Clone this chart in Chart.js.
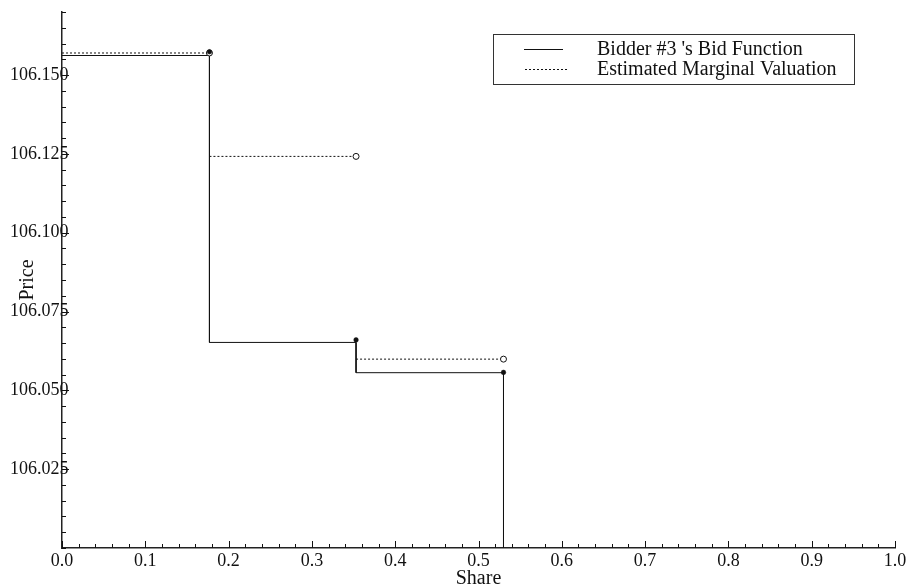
<!DOCTYPE html>
<html><head><meta charset="utf-8">
<script src="https://cdn.jsdelivr.net/npm/chart.js@4.4.1/dist/chart.umd.min.js"></script>
<style>html,body{margin:0;padding:0;background:#fff;} #wrap{width:911px;height:587px;}</style>
</head><body><div id="wrap"><canvas id="c" width="911" height="587"></canvas></div>
<script>
// ---- data ----
const seriesNames = ["Bidder #3 's Bid Function", "Estimated Marginal Valuation"];
const stepStart = [0, 0.177, 0.353];
const stepEnd = [0.177, 0.353, 0.530];
const bidPrice = [106.1562, 106.0652, 106.0556];
const bidMarkerPrice = [106.1574, 106.0660, 106.0557];
const valuation = [106.1570, 106.1242, 106.0599];
const bidFloor = 106.000;
const xMajorTicks = [0.0, 0.1, 0.2, 0.3, 0.4, 0.5, 0.6, 0.7, 0.8, 0.9, 1.0];
const yMajorTicks = [106.025, 106.050, 106.075, 106.100, 106.125, 106.150];

// ---- build datasets ----
const bidLine = [];
stepStart.forEach((s, i) => {
  bidLine.push({x: s, y: bidPrice[i]});
  bidLine.push({x: stepEnd[i], y: bidPrice[i]});
  bidLine.push({x: stepEnd[i], y: i + 1 < bidPrice.length ? bidPrice[i + 1] : bidFloor});
});
const valLine = [];
stepStart.forEach((s, i) => {
  valLine.push({x: s, y: valuation[i]});
  valLine.push({x: stepEnd[i], y: valuation[i]});
  valLine.push({x: stepEnd[i], y: null});
});
const bidMarks = stepEnd.map((e, i) => ({x: e, y: bidMarkerPrice[i]}));
const valMarks = stepEnd.map((e, i) => ({x: e, y: valuation[i]}));

const FONT = "'Liberation Serif', 'Times New Roman', serif";
const INK = '#111';

const isMajor = (v, list) => list.some(m => Math.abs(m - v) < 1e-6);

const tickPlugin = {
  id: 'innerTicks',
  afterDraw(chart) {
    const {ctx, chartArea, scales} = chart;
    ctx.save();
    ctx.strokeStyle = INK;
    ctx.lineWidth = 1;
    const xs = scales.x, ys = scales.y;
    xs.ticks.forEach(t => {
      const px = Math.round(xs.getPixelForValue(t.value)) + 0.5;
      const len = isMajor(t.value, xMajorTicks) ? 7 : 4;
      ctx.beginPath();
      ctx.moveTo(px, chartArea.bottom);
      ctx.lineTo(px, chartArea.bottom - len);
      ctx.stroke();
    });
    ys.ticks.forEach(t => {
      const py = Math.round(ys.getPixelForValue(t.value)) + 0.5;
      const len = isMajor(t.value, yMajorTicks) ? 7 : 4;
      ctx.beginPath();
      ctx.moveTo(chartArea.left, py);
      ctx.lineTo(chartArea.left + len, py);
      ctx.stroke();
    });
    ctx.restore();
  }
};

const legendPlugin = {
  id: 'boxLegend',
  afterDraw(chart) {
    const {ctx} = chart;
    ctx.save();
    ctx.strokeStyle = '#333';
    ctx.lineWidth = 1;
    ctx.strokeRect(493.5, 34.5, 361, 50);
    const rows = [
      {label: chart.data.datasets[0].label, dash: [], y: 49.5, x1: 524, x2: 563},
      {label: chart.data.datasets[1].label, dash: [2, 2], y: 69.5, x1: 525, x2: 567}
    ];
    rows.forEach(r => {
      ctx.setLineDash(r.dash);
      ctx.strokeStyle = INK;
      ctx.beginPath();
      ctx.moveTo(r.x1, r.y);
      ctx.lineTo(r.x2, r.y);
      ctx.stroke();
      ctx.setLineDash([]);
      ctx.fillStyle = INK;
      ctx.font = '20px ' + FONT;
      ctx.textBaseline = 'alphabetic';
      ctx.textAlign = 'left';
      ctx.fillText(r.label, 597, r.y + 5);
    });
    ctx.restore();
  }
};

new Chart(document.getElementById('c'), {
  type: 'scatter',
  data: {
    datasets: [
      {label: seriesNames[0], data: bidLine, showLine: true, borderColor: INK, borderWidth: 1,
       pointRadius: 0, order: 3},
      {label: seriesNames[1], data: valLine, showLine: true, spanGaps: false, borderColor: INK,
       borderWidth: 1, borderDash: [2, 2], pointRadius: 0, order: 4},
      {label: 'bid points', data: bidMarks, showLine: false, pointRadius: 2.3,
       pointBackgroundColor: INK, pointBorderColor: INK, pointBorderWidth: 0.5, order: 1},
      {label: 'valuation points', data: valMarks, showLine: false, pointRadius: 3,
       pointBackgroundColor: '#fff', pointBorderColor: INK, pointBorderWidth: 1, order: 2}
    ]
  },
  options: {
    responsive: false,
    animation: false,
    layout: {padding: {top: 12, right: 16, left: 0, bottom: 0}},
    plugins: {legend: {display: false}, tooltip: {enabled: false}},
    scales: {
      x: {
        type: 'linear', min: 0, max: 1,
        grid: {display: false, drawTicks: false},
        border: {display: true, color: '#222', width: 1.5},
        ticks: {
          stepSize: 0.02, autoSkip: false, maxRotation: 0, minRotation: 0, padding: 2,
          color: INK, font: {family: FONT, size: 18},
          callback: v => isMajor(v, xMajorTicks) ? v.toFixed(1) : ''
        },
        title: {display: true, text: 'Share', color: INK, font: {family: FONT, size: 20, lineHeight: 1},
                padding: {top: 0, bottom: -2}},
        afterFit: s => { s.height = 39; }
      },
      y: {
        type: 'linear', min: 106.0, max: 106.17,
        grid: {display: false, drawTicks: false},
        border: {display: true, color: '#222', width: 1.5},
        ticks: {
          stepSize: 0.005, autoSkip: false, mirror: true, crossAlign: 'near', padding: -52,
          color: INK, font: {family: FONT, size: 18},
          callback: v => isMajor(v, yMajorTicks) ? v.toFixed(3) : ''
        },
        title: {display: true, text: 'Price', color: INK, font: {family: FONT, size: 20, lineHeight: 1},
                padding: {top: 18, bottom: 0}},
        afterFit: s => { s.width = 62; }
      }
    }
  },
  plugins: [tickPlugin, legendPlugin]
});
</script>
</body></html>
